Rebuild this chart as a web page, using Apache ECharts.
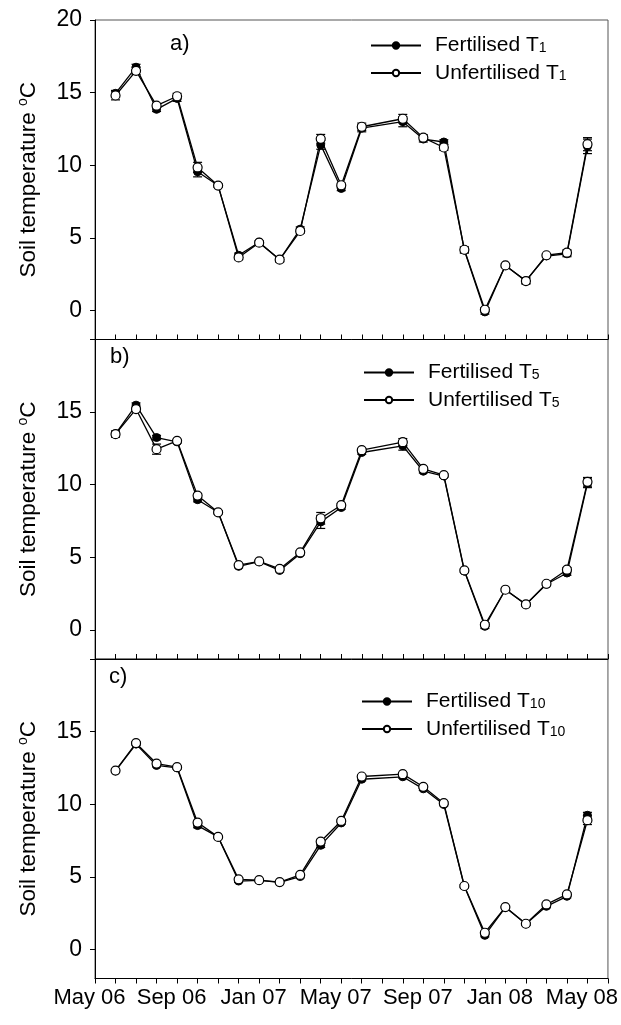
<!DOCTYPE html>
<html><head><meta charset="utf-8">
<script src="https://cdn.jsdelivr.net/npm/echarts@6/dist/echarts.min.js"></script>
<style>html,body{margin:0;padding:0;background:#fff}#c{width:621px;height:1025px}</style>
</head><body><div id="c"></div>
<script>
// Months counted from May 2006 (0 = May 06); Jul 07 (14) has no sample
const monthIndex = [1,2,3,4,5,6,7,8,9,10,11,12,13,15,16,17,18,19,20,21,22,23,24];
const tickMonths = [0,4,8,12,16,20,24];
const tickLabels = ['May 06','Sep 06','Jan 07','May 07','Sep 07','Jan 08','May 08'];

// Panel a) T1
const fertT1     = [14.95,16.75,13.85,14.6,9.55,8.6,3.8,4.7,3.5,5.6,11.4,8.4,12.55,13.0,11.8,11.6,4.15,-0.1,3.1,2.05,3.75,3.9,11.3];
const fertT1Err  = [0.2,0.2,0.15,0.2,0.35,0.1,0.15,0.1,0.15,0.15,0.3,0.15,0.25,0.35,0.2,0.15,0.2,0.15,0.1,0.2,0.1,0.2,0.5];
const unfT1      = [14.8,16.5,14.1,14.75,9.85,8.6,3.65,4.67,3.5,5.47,11.82,8.62,12.65,13.2,11.9,11.22,4.18,0.05,3.1,2.02,3.8,3.98,11.45];
const unfT1Err   = [0.3,0.25,0.15,0.2,0.35,0.1,0.15,0.1,0.15,0.15,0.3,0.15,0.25,0.3,0.2,0.2,0.2,0.15,0.1,0.2,0.1,0.2,0.45];

// Panel b) T5
const fertT5     = [13.5,15.48,13.25,12.95,8.97,8.1,4.38,4.7,4.1,5.25,7.44,8.43,12.22,12.68,10.93,10.6,4.05,0.25,2.77,1.75,3.15,3.92,10.1];
const fertT5Err  = [0.2,0.15,0.15,0.1,0.15,0.1,0.1,0.08,0.1,0.1,0.45,0.12,0.12,0.3,0.12,0.1,0.1,0.15,0.08,0.1,0.1,0.15,0.3];
const unfT5      = [13.48,15.21,12.45,13.02,9.25,8.1,4.47,4.72,4.2,5.34,7.69,8.59,12.38,12.93,11.09,10.66,4.1,0.36,2.77,1.76,3.18,4.15,10.2];
const unfT5Err   = [0.2,0.15,0.35,0.1,0.15,0.1,0.1,0.08,0.1,0.1,0.4,0.12,0.12,0.25,0.12,0.1,0.1,0.15,0.08,0.1,0.1,0.15,0.3];

// Panel c) T10
const fertT10    = [12.3,14.14,12.67,12.5,8.53,7.75,4.71,4.75,4.62,5.02,7.17,8.71,11.72,11.89,11.06,9.98,4.35,0.97,2.9,1.75,2.97,3.66,9.24];
const fertT10Err = [0.1,0.1,0.1,0.08,0.15,0.08,0.1,0.05,0.05,0.1,0.15,0.1,0.1,0.1,0.1,0.1,0.1,0.1,0.05,0.1,0.1,0.1,0.2];
const unfT10     = [12.32,14.21,12.8,12.55,8.74,7.75,4.83,4.77,4.64,5.13,7.43,8.85,11.91,12.07,11.2,10.07,4.37,1.15,2.92,1.77,3.1,3.79,8.9];
const unfT10Err  = [0.1,0.1,0.1,0.08,0.15,0.08,0.1,0.05,0.05,0.1,0.15,0.1,0.1,0.1,0.1,0.1,0.1,0.1,0.05,0.1,0.1,0.1,0.3];

const panels = [
  {label:'a)', sub:'1', f:fertT1, fe:fertT1Err, u:unfT1, ue:unfT1Err},
  {label:'b)', sub:'5', f:fertT5, fe:fertT5Err, u:unfT5, ue:unfT5Err},
  {label:'c)', sub:'10', f:fertT10, fe:fertT10Err, u:unfT10, ue:unfT10Err}
];

const FONT = '"Liberation Sans", Arial, Helvetica, sans-serif';
const gridTops = [20, 339.5, 659];
const gridH = 319.5;
const legendPos = [{left:370, top:35}, {left:363, top:362}, {left:361, top:691}];
const labelPos = [{left:170, top:33}, {left:110, top:346}, {left:109, top:666}];

const grids = [], xAxes = [], yAxes = [], series = [], legends = [], titles = [];

function errRender(params, api) {
  const x = api.value(0), v = api.value(1), e = api.value(2);
  const t = api.coord([x, v + e]);
  const b = api.coord([x, v - e]);
  const w = 4.5;
  const st = {stroke:'#000', lineWidth:1.2};
  return {type:'group', children:[
    {type:'line', shape:{x1:t[0], y1:t[1], x2:b[0], y2:b[1]}, style:st},
    {type:'line', shape:{x1:t[0]-w, y1:t[1], x2:t[0]+w, y2:t[1]}, style:st},
    {type:'line', shape:{x1:b[0]-w, y1:b[1], x2:b[0]+w, y2:b[1]}, style:st}
  ]};
}

panels.forEach((p, i) => {
  const last = i === 2;
  grids.push({left:95, width:513, top:gridTops[i], height:gridH, show:true, borderColor:'#555', borderWidth:1, backgroundColor:'transparent'});
  xAxes.push({
    type:'value', gridIndex:i, min:0, max:25, interval:1,
    axisLine:{show:true, onZero:false, lineStyle:{color:'#000', width:1}},
    axisTick:{show:true, inside:!last, length:5, lineStyle:{color:'#000'}},
    axisLabel: last ? {
      show:true, customValues:tickMonths, fontSize:22, fontFamily:FONT, color:'#000', margin:8,
      padding:[0,11,0,0],
      formatter:(v)=>{const k = tickMonths.indexOf(v); return k >= 0 ? tickLabels[k] : '';}
    } : {show:false},
    splitLine:{show:false}
  });
  yAxes.push({
    type:'value', gridIndex:i, min:-2, max:20,
    axisLine:{show:true, onZero:false, lineStyle:{color:'#000', width:1}},
    axisTick:{show:true, length:5, customValues:[0,5,10,15,20], lineStyle:{color:'#000'}},
    axisLabel:{show:true, customValues: i === 0 ? [0,5,10,15,20] : [0,5,10,15], fontSize:23, fontFamily:FONT, color:'#000', margin:13},
    splitLine:{show:false},
    name:'{t|Soil temperature }{s|o}{t|C}',
    nameLocation:'middle', nameGap:54, nameRotate:90,
    nameTextStyle:{fontSize:22.5, fontFamily:FONT, color:'#000',
      rich:{t:{fontSize:22.5, fontFamily:FONT, color:'#000', lineHeight:25},
            s:{fontSize:14, fontFamily:FONT, color:'#000', lineHeight:14, verticalAlign:'top'}}}
  });
  const fName = 'Fertilised T' + p.sub;
  const uName = 'Unfertilised T' + p.sub;
  series.push({type:'custom', xAxisIndex:i, yAxisIndex:i, renderItem:errRender, z:1,
    data: monthIndex.map((m,k)=>[m, p.f[k], p.fe[k]]), encode:{x:0, y:1}, silent:true});
  series.push({type:'custom', xAxisIndex:i, yAxisIndex:i, renderItem:errRender, z:1,
    data: monthIndex.map((m,k)=>[m, p.u[k], p.ue[k]]), encode:{x:0, y:1}, silent:true});
  series.push({type:'line', name:fName, xAxisIndex:i, yAxisIndex:i, z:3,
    data: monthIndex.map((m,k)=>[m, p.f[k]]),
    symbol:'circle', symbolSize:8, showAllSymbol:true,
    lineStyle:{color:'#000', width:1.3}, itemStyle:{color:'#000', borderColor:'#000', borderWidth:1},
    emphasis:{disabled:true}, animation:false});
  series.push({type:'line', name:uName, xAxisIndex:i, yAxisIndex:i, z:4,
    data: monthIndex.map((m,k)=>[m, p.u[k]]),
    symbol:'circle', symbolSize:9, showAllSymbol:true,
    lineStyle:{color:'#000', width:1.3}, itemStyle:{color:'#fff', borderColor:'#000', borderWidth:1.2},
    emphasis:{disabled:true}, animation:false});
  legends.push({
    data:[fName, uName], orient:'vertical', left:legendPos[i].left, top:legendPos[i].top,
    padding:0, itemWidth:50, itemHeight:8, itemGap:6, selectedMode:false,
    formatter:(n)=>{const parts = n.split(' T'); return '{t|' + parts[0] + ' T}{s|' + parts[1] + '}';},
    textStyle:{fontSize:21, fontFamily:FONT, color:'#000', padding:[0,0,0,9],
      rich:{t:{fontSize:21, fontFamily:FONT, color:'#000', lineHeight:22},
            s:{fontSize:14, fontFamily:FONT, color:'#000', lineHeight:14, verticalAlign:'bottom', padding:[0,0,1,0]}}}
  });
  titles.push({text:p.label, left:labelPos[i].left, top:labelPos[i].top, padding:0,
    textStyle:{fontSize:22, fontWeight:'normal', fontFamily:FONT, color:'#000'}});
});

const chart = echarts.init(document.getElementById('c'), null, {renderer:'canvas'});
chart.setOption({
  backgroundColor:'#fff', animation:false,
  title:titles, grid:grids, xAxis:xAxes, yAxis:yAxes, legend:legends, series:series
});
</script></body></html>
